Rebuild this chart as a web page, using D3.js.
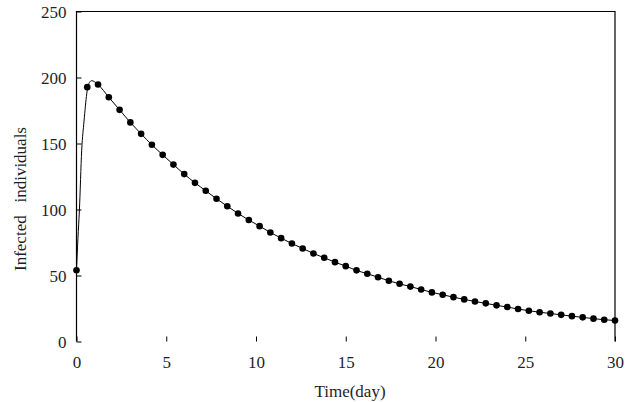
<!DOCTYPE html>
<html><head><meta charset="utf-8">
<script src="https://cdn.jsdelivr.net/npm/d3@7"></script>
<style>body{margin:0;background:#fff}svg{display:block}</style>
</head><body><svg id="c" width="632" height="402" font-family="'Liberation Serif', 'Times New Roman', serif"></svg>
<script>
// Marker samples (every 0.6 day)
const markerTime = [0,0.6,1.2,1.8,2.4,3.0,3.6,4.2,4.8,5.4,6.0,6.6,7.2,7.8,8.4,9.0,9.6,10.2,10.8,11.4,12.0,12.6,13.2,13.8,14.4,15.0,15.6,16.2,16.8,17.4,18.0,18.6,19.2,19.8,20.4,21.0,21.6,22.2,22.8,23.4,24.0,24.6,25.2,25.8,26.4,27.0,27.6,28.2,28.8,29.4,30.0];
const markerInfected = [54,192.7,194.7,185,175.5,166,157.3,149,141.4,134,126.8,120.2,114.2,108.1,102.5,97,92,87.4,82.6,78.3,74.2,70.5,66.7,63.4,60.1,57.1,53.9,51.3,48.7,46,43.7,41.6,39.4,37.2,35.4,33.6,31.9,30.3,28.9,27.4,26.1,24.6,23.3,22.2,21.2,20.2,19.2,18.3,17.3,16.5,15.9];
// Extra curve points in the early rise (curve drawn finer than markers)
const riseTime = [0,0.08,0.16,0.29,0.42,0.57,0.6,0.72,0.85,1.0];
const riseInfected = [54,78,99,145,167,187.6,190.5,196.2,197.6,196.8];
const xTicks = [0,5,10,15,20,25,30];
const yTicks = [0,50,100,150,200,250];

const FONT = "'Liberation Serif', 'Times New Roman', serif";
const svg = d3.select("#c");
const x = d3.scaleLinear().domain([0,30]).range([76.5,615]);
const y = d3.scaleLinear().domain([0,250]).range([341.5,11.5]);

const lineData = riseTime.map((t,i)=>[t,riseInfected[i]])
  .concat(markerTime.map((t,i)=>[t,markerInfected[i]]).filter(d=>d[0]>1.05));
const markers = markerTime.map((t,i)=>[t,markerInfected[i]]);

// frame: left, top, right
svg.append("path").attr("d",`M${x(0)},${y(0)}V${y(250)}H${x(30)}V${y(0)}`)
  .attr("fill","none").attr("stroke","#000").attr("stroke-width",1.2);

// y axis ticks + labels
const ya = svg.append("g").attr("transform",`translate(${x(0)},0)`)
  .call(d3.axisLeft(y).tickValues(yTicks).tickSize(-5).tickPadding(10))
  .attr("font-family",FONT).attr("font-size",17);
ya.select(".domain").remove();
ya.selectAll("line").attr("stroke","#000");
ya.selectAll("text").attr("fill","#1e1e28").attr("dy","0.35em");

// x axis ticks + labels
const xa = svg.append("g").attr("transform",`translate(0,${y(0)})`)
  .call(d3.axisBottom(x).tickValues(xTicks).tickSize(-5).tickPadding(14))
  .attr("font-family",FONT).attr("font-size",17);
xa.select(".domain").remove();
xa.selectAll("line").attr("stroke","#000");
xa.selectAll("text").attr("fill","#1e1e28");

// curve
svg.append("path").datum(lineData)
  .attr("d",d3.line().x(d=>x(d[0])).y(d=>y(d[1])).curve(d3.curveMonotoneX))
  .attr("fill","none").attr("stroke","#000").attr("stroke-width",1);

svg.append("g").selectAll("circle").data(markers).join("circle")
  .attr("cx",d=>x(d[0])).attr("cy",d=>y(d[1])).attr("r",3.3).attr("fill","#000");

// labels
svg.append("text").attr("x",350).attr("y",397).attr("text-anchor","middle")
  .attr("font-family",FONT).attr("font-size",17).attr("fill","#1e1e28").text("Time(day)");
svg.append("text").attr("transform","translate(26,199) rotate(-90)").attr("text-anchor","middle")
  .attr("font-family",FONT).attr("font-size",17).attr("fill","#1e1e28")
  .style("white-space","pre").attr("xml:space","preserve").text("Infected   individuals");
</script></body></html>
